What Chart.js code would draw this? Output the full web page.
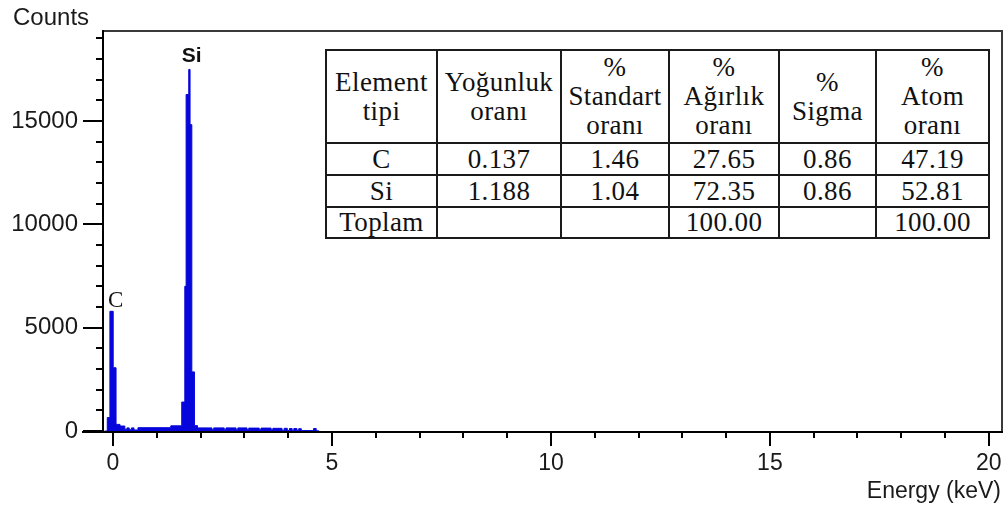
<!DOCTYPE html>
<html>
<head>
<meta charset="utf-8">
<script src="https://cdn.jsdelivr.net/npm/chart.js@4.4.1/dist/chart.umd.min.js"></script>
<style>
  html, body { margin: 0; padding: 0; background: #fff; }
  #wrap { position: relative; width: 1005px; height: 519px; overflow: hidden; }
  #c { position: absolute; left: 0; top: 0; }
  #tbl {
    position: absolute; left: 325px; top: 49px;
    border-collapse: collapse; table-layout: fixed;
    font-family: 'Liberation Serif', 'Times New Roman', serif;
    font-size: 27px; letter-spacing: 0.4px; color: #111; background: #fff;
  }
  #tbl td {
    border: 2px solid #1a1a1a; padding: 0; text-align: center;
    vertical-align: middle; line-height: 29px; white-space: nowrap;
  }
</style>
</head>
<body>
<div id="wrap">
  <canvas id="c" width="1005" height="519"></canvas>
  <table id="tbl"></table>
</div>
<script>
// EDS spectrum: channel start energies (keV) and counts in each channel
const energyKeV = [
  -0.19, -0.13, -0.07, 0.005, 0.07, 0.16, 0.27, 0.32, 0.37, 0.42, 0.48, 0.57,
  1.32, 1.57, 1.64, 1.67, 1.73, 1.76, 1.80, 1.86, 1.93,
  2.26, 2.30, 2.54, 2.58, 2.81, 2.85, 3.06, 3.10, 3.34, 3.38, 3.61, 3.65,
  3.86, 3.91, 3.98, 4.03, 4.09, 4.13, 4.20, 4.24, 4.30, 4.58, 4.64, 4.70
];
const counts = [
  0, 650, 5790, 3060, 320, 240, 90, 150, 60, 150, 50, 160,
  250, 1400, 7000, 16280, 17490, 14820, 2860, 260, 150,
  60, 150, 60, 150, 60, 150, 60, 140, 60, 140, 60, 130,
  40, 130, 30, 120, 30, 120, 30, 110, 20, 120, 10, 0
];

// Peak identification labels
const peakNames = ['C', 'Si'];
const peakKeV = [-0.07, 1.73];
const peakCounts = [5790, 17490];

// Axis ranges and tick values
const xRange = [-0.228, 20.3];
const yRange = [0, 19350];
const xTickValues = [0,1,2,3,4,5,6,7,8,9,10,11,12,13,14,15,16,17,18,19,20];
const xTickLabels = ['0','5','10','15','20'];
const yTickValues = [0,1000,2000,3000,4000,5000,6000,7000,8000,9000,10000,
                     11000,12000,13000,14000,15000,16000,17000,18000,19000];
const yTickLabels = ['0','5000','10000','15000'];

// Quantification table
const tableHeaders = [
  ['Element', 'tipi'],
  ['Yoğunluk', 'oranı'],
  ['%', 'Standart', 'oranı'],
  ['%', 'Ağırlık', 'oranı'],
  ['%', 'Sigma'],
  ['%', 'Atom', 'oranı']
];
const tableRows = [
  ['C', '0.137', '1.46', '27.65', '0.86', '47.19'],
  ['Si', '1.188', '1.04', '72.35', '0.86', '52.81'],
  ['Toplam', '', '', '100.00', '', '100.00']
];

// ---- table ----
(function buildTable() {
  const colW = [111, 124, 108, 110, 97, 113];
  const rowH = [93, 32, 32, 31];
  const tbl = document.getElementById('tbl');
  const cg = document.createElement('colgroup');
  colW.forEach(w => { const c = document.createElement('col'); c.style.width = w + 'px'; cg.appendChild(c); });
  tbl.appendChild(cg);
  const hr = document.createElement('tr');
  hr.style.height = rowH[0] + 'px';
  tableHeaders.forEach(lines => {
    const td = document.createElement('td');
    td.innerHTML = lines.join('<br>');
    hr.appendChild(td);
  });
  tbl.appendChild(hr);
  tableRows.forEach((r, i) => {
    const tr = document.createElement('tr');
    tr.style.height = rowH[i + 1] + 'px';
    r.forEach(v => { const td = document.createElement('td'); td.textContent = v; tr.appendChild(td); });
    tbl.appendChild(tr);
  });
})();

const isLabelled = (labels, v) => labels.indexOf(String(v)) !== -1;

// ---- frame, tick marks, axis titles and peak labels ----
const spectrumDecor = {
  id: 'spectrumDecor',
  afterDraw(chart) {
    const ctx = chart.ctx;
    const a = chart.chartArea;
    const xs = chart.scales.x, ys = chart.scales.y;
    const L = Math.round(a.left), R = Math.round(a.right);
    const T = Math.round(a.top), B = Math.round(a.bottom);
    ctx.save();

    // upper and right frame
    ctx.fillStyle = '#3a3a3a';
    ctx.fillRect(L, T - 1, R - L + 1, 2);
    ctx.fillRect(R - 1, T - 1, 2, B - T + 1);

    // axis lines (the x axis line also forms the long tick at zero counts)
    ctx.fillStyle = '#000';
    ctx.fillRect(L - 1, T - 1, 2, B - T + 2);
    ctx.fillRect(L - 21, B, R - L + 22, 2);

    // y tick marks
    yTickValues.forEach(v => {
      const py = Math.round(ys.getPixelForValue(v));
      const len = isLabelled(yTickLabels, v) ? 20 : 7;
      ctx.fillRect(L - len, py - 1, len, 2);
    });

    // x tick marks
    xTickValues.forEach(v => {
      const px = Math.round(xs.getPixelForValue(v));
      const len = isLabelled(xTickLabels, v) ? 15 : 7;
      ctx.fillRect(px - 1, B, 2, len);
    });

    // axis titles
    ctx.fillStyle = '#1a1a1a';
    ctx.textBaseline = 'middle';
    ctx.font = '24px "Liberation Sans", Arial, sans-serif';
    ctx.textAlign = 'left';
    ctx.fillText('Counts', 13, 18);
    ctx.font = '23px "Liberation Sans", Arial, sans-serif';
    ctx.textAlign = 'right';
    ctx.fillText('Energy (keV)', 1001, 492);

    // peak labels
    ctx.fillStyle = '#111';
    ctx.textBaseline = 'alphabetic';
    peakNames.forEach((name, i) => {
      const px = xs.getPixelForValue(peakKeV[i]);
      const py = ys.getPixelForValue(peakCounts[i]);
      if (name === 'Si') {
        ctx.font = 'bold 21px "Liberation Sans", Arial, sans-serif';
        ctx.textAlign = 'center';
        ctx.fillText(name, px + 3, py - 7);
      } else {
        ctx.font = '23px "Liberation Serif", "Times New Roman", serif';
        ctx.textAlign = 'left';
        ctx.fillText(name, px - 2, py - 4);
      }
    });
    ctx.restore();
  }
};

const points = energyKeV.map((e, i) => ({ x: e, y: counts[i] }));

new Chart(document.getElementById('c'), {
  type: 'line',
  data: {
    datasets: [{
      data: points,
      stepped: 'before',
      fill: 'origin',
      backgroundColor: 'rgb(6,6,220)',
      borderColor: 'rgb(6,6,220)',
      borderWidth: 1,
      pointRadius: 0,
      tension: 0
    }]
  },
  options: {
    responsive: false,
    animation: false,
    devicePixelRatio: 1,
    layout: { padding: { left: 0, top: 31, right: 3, bottom: 0 } },
    plugins: { legend: { display: false }, tooltip: { enabled: false } },
    scales: {
      x: {
        type: 'linear',
        min: xRange[0], max: xRange[1],
        border: { display: false },
        grid: { display: false, drawTicks: false },
        afterBuildTicks(s) { s.ticks = xTickValues.map(v => ({ value: v })); },
        afterFit(s) { s.height = 88; s.paddingLeft = 0; s.paddingRight = 0; },
        ticks: {
          autoSkip: false, maxRotation: 0, minRotation: 0,
          padding: 19,
          color: '#1a1a1a',
          font: { family: '"Liberation Sans", Arial, sans-serif', size: 23 },
          callback: v => (isLabelled(xTickLabels, v) ? String(v) : '')
        }
      },
      y: {
        type: 'linear',
        min: yRange[0], max: yRange[1],
        border: { display: false },
        grid: { display: false, drawTicks: false },
        afterBuildTicks(s) { s.ticks = yTickValues.map(v => ({ value: v })); },
        afterFit(s) { s.width = 103; s.paddingTop = 0; s.paddingBottom = 0; },
        ticks: {
          autoSkip: false,
          padding: 25,
          color: '#1a1a1a',
          font: { family: '"Liberation Sans", Arial, sans-serif', size: 24 },
          callback: v => (isLabelled(yTickLabels, v) ? String(v) : '')
        }
      }
    }
  },
  plugins: [spectrumDecor]
});
</script>
</body>
</html>
